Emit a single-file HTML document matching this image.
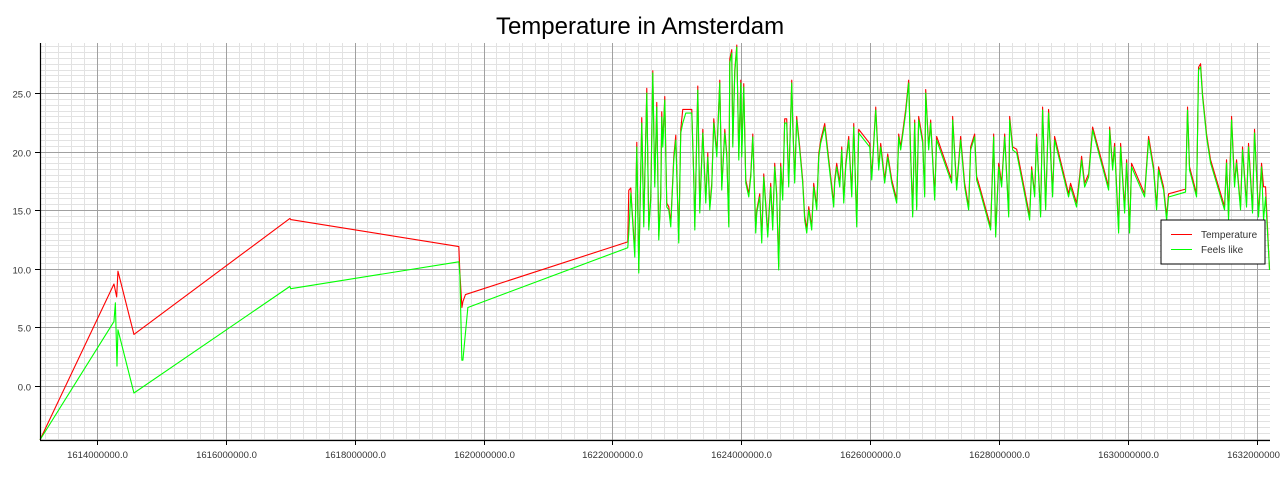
<!DOCTYPE html>
<html>
<head>
<meta charset="utf-8">
<style>
  html, body { margin: 0; padding: 0; background: #fff; }
  svg { display: block; font-family: "Liberation Sans", sans-serif; }
</style>
</head>
<body>
<svg id="chart" width="1280" height="480" viewBox="0 0 1280 480">
  <text x="640" y="34" text-anchor="middle" font-size="24" fill="#000">Temperature in Amsterdam</text>
  <g id="grid"></g>
  <g id="series"></g>
  <g id="axes"></g>
  <g>
    <rect x="1161" y="220" width="104" height="44" fill="#fff" stroke="#000" stroke-width="1"/>
    <line x1="1171" y1="234.5" x2="1192" y2="234.5" stroke="#ff0000" stroke-width="1"/>
    <text x="1201" y="238" font-size="10" fill="#333">Temperature</text>
    <line x1="1171" y1="249.5" x2="1192" y2="249.5" stroke="#00ff00" stroke-width="1"/>
    <text x="1201" y="253" font-size="10" fill="#333">Feels like</text>
  </g>
</svg>
<script>
// Timestamps in millions of seconds (unix time / 1e6)
const timesEarlyT = [1613.121,1614.268,1614.31,1614.33,1614.578,1616.997,1617.01,1619.617,1619.633,1619.665,1619.68,1619.72,1622.237,1622.253];
const tempEarly   = [-4.6,8.7,7.6,9.8,4.4,14.3,14.2,11.9,9.7,6.7,7.2,7.8,12.3,16.7];
const timesEarlyF = [1613.121,1614.268,1614.29,1614.315,1614.33,1614.578,1616.997,1617.01,1619.617,1619.633,1619.664,1619.68,1619.757,1622.237];
const feelsEarly  = [-4.6,5.5,7.1,1.7,4.8,-0.6,8.5,8.3,10.6,9.5,2.2,2.2,6.7,11.8];

const timesDense = [1622.253,1622.284,1622.299,1622.346,1622.377,1622.408,1622.454,1622.485,1622.532,1622.563,1622.594,1622.625,1622.656,1622.687,1622.718,1622.749,1622.764,1622.780,1622.811,1622.842,1622.873,1622.904,1622.951,1622.982,1623.028,1623.059,1623.090,1623.137,1623.230,1623.261,1623.277,1623.323,1623.354,1623.401,1623.447,1623.478,1623.509,1623.540,1623.571,1623.618,1623.664,1623.695,1623.742,1623.773,1623.804,1623.819,1623.850,1623.866,1623.897,1623.928,1623.959,1623.990,1624.005,1624.036,1624.067,1624.114,1624.145,1624.176,1624.222,1624.238,1624.284,1624.315,1624.346,1624.377,1624.408,1624.454,1624.485,1624.516,1624.547,1624.578,1624.609,1624.640,1624.671,1624.702,1624.733,1624.780,1624.795,1624.826,1624.857,1624.904,1624.950,1624.981,1625.013,1625.044,1625.090,1625.121,1625.168,1625.199,1625.230,1625.292,1625.431,1625.447,1625.478,1625.525,1625.556,1625.587,1625.618,1625.664,1625.711,1625.742,1625.788,1625.819,1625.990,1626.021,1626.083,1626.129,1626.160,1626.222,1626.269,1626.331,1626.408,1626.439,1626.470,1626.548,1626.594,1626.625,1626.656,1626.687,1626.718,1626.749,1626.811,1626.842,1626.858,1626.904,1626.935,1626.997,1627.028,1627.261,1627.276,1627.338,1627.400,1627.462,1627.524,1627.555,1627.617,1627.648,1627.695,1627.865,1627.912,1627.943,1627.990,1628.036,1628.083,1628.145,1628.160,1628.207,1628.269,1628.470,1628.501,1628.548,1628.578,1628.640,1628.671,1628.718,1628.764,1628.826,1628.857,1629.074,1629.105,1629.198,1629.245,1629.276,1629.323,1629.385,1629.447,1629.695,1629.711,1629.757,1629.788,1629.850,1629.881,1629.943,1629.974,1630.020,1630.051,1630.253,1630.315,1630.392,1630.439,1630.470,1630.547,1630.594,1630.625,1630.888,1630.919,1630.950,1631.059,1631.090,1631.121,1631.152,1631.214,1631.276,1631.493,1631.524,1631.555,1631.602,1631.648,1631.679,1631.741,1631.772,1631.834,1631.865,1631.927,1631.958,1632.020,1632.067,1632.098,1632.129,1632.191];

const feelsDense = [13.05,16.47,15.27,11.0,20.39,9.64,22.44,13.57,25.0,13.31,15.87,26.71,16.98,23.8,12.46,16.13,22.95,20.39,24.4,15.27,15.02,13.57,19.28,20.99,12.2,21.59,22.44,23.29,23.29,17.58,13.31,25.26,14.76,21.59,15.61,19.54,15.02,16.98,22.44,19.54,25.85,16.72,21.59,19.54,13.57,27.56,28.41,20.39,26.71,28.92,19.28,25.85,19.54,25.51,17.32,16.13,17.83,21.25,13.05,14.76,16.13,12.2,17.83,15.27,12.71,16.98,13.31,18.69,16.13,9.9,18.69,15.87,22.44,22.44,16.98,25.85,22.44,17.32,22.7,20.14,17.32,14.16,13.05,15.02,13.31,16.98,15.02,19.54,20.73,22.1,15.27,17.32,18.69,16.98,20.14,15.61,18.69,20.99,16.13,22.1,13.57,21.59,20.39,17.58,23.55,18.43,20.39,17.32,19.54,17.32,15.61,21.25,20.14,23.29,25.85,19.54,14.42,22.44,15.02,22.7,20.73,16.13,25.0,20.14,22.44,15.87,20.99,17.32,22.7,16.72,20.99,16.98,15.02,20.14,21.25,17.58,16.72,13.31,21.25,12.71,18.69,16.98,21.25,14.42,22.7,20.14,19.88,14.16,18.43,16.13,21.25,14.42,23.55,15.02,23.29,16.13,20.99,16.13,16.98,15.27,17.58,19.28,16.98,17.83,21.84,16.72,21.84,18.43,20.39,13.05,20.39,14.76,19.03,13.05,18.69,16.13,20.99,18.43,15.02,18.43,16.72,14.16,16.13,16.55,23.55,18.43,16.13,26.96,27.22,24.66,21.25,19.03,15.02,19.03,14.16,22.7,16.98,19.03,15.02,20.14,15.27,20.39,14.76,21.59,14.42,18.69,14.16,16.13,9.9];

const tempDense = [13.4,16.9,15.5,11.4,20.8,9.9,22.9,13.9,25.4,13.6,16.2,26.9,17.3,24.2,12.8,16.4,23.4,20.7,24.7,15.6,15.3,13.9,19.6,21.4,12.5,21.9,23.6,23.6,23.6,17.9,13.6,25.6,15.1,21.9,15.9,19.9,15.3,17.3,22.8,19.8,26.1,17.0,21.9,19.8,13.9,27.9,28.7,20.7,27.0,29.1,19.6,26.1,19.8,25.8,17.6,16.4,18.1,21.5,13.4,15.0,16.4,12.6,18.1,15.6,13.0,17.3,13.6,19.0,16.4,10.2,19.0,16.2,22.8,22.8,17.3,26.1,22.7,17.6,23.0,20.4,17.6,14.5,13.4,15.3,13.6,17.3,15.3,19.8,21.0,22.4,15.6,17.6,19.0,17.3,20.4,15.9,19.0,21.3,16.4,22.4,13.9,21.9,20.7,17.9,23.8,18.7,20.7,17.6,19.8,17.6,15.9,21.5,20.4,23.6,26.1,19.8,14.7,22.7,15.3,23.0,21.0,16.4,25.3,20.4,22.7,16.2,21.3,17.6,23.0,17.0,21.3,17.3,15.3,20.4,21.5,17.9,17.0,13.6,21.5,13.0,19.0,17.3,21.5,14.7,23.0,20.4,20.2,14.5,18.7,16.4,21.5,14.7,23.8,15.3,23.6,16.4,21.3,16.4,17.3,15.6,17.9,19.6,17.3,18.1,22.1,17.0,22.1,18.7,20.7,13.4,20.7,15.1,19.3,13.4,19.0,16.4,21.3,18.7,15.3,18.7,17.0,14.5,16.4,16.8,23.8,18.7,16.4,27.2,27.5,24.9,21.5,19.3,15.3,19.3,14.5,23.0,17.3,19.3,15.3,20.4,15.6,20.7,15.1,21.9,14.7,19.0,17.0,17.0,9.9];

const xTicks = [1614,1616,1618,1620,1622,1624,1626,1628,1630,1632];
const xTickLabels = ["1614000000.0","1616000000.0","1618000000.0","1620000000.0","1622000000.0","1624000000.0","1626000000.0","1628000000.0","1630000000.0","1632000000.0"];
const yTicks = [0,5,10,15,20,25];
const yTickLabels = ["0.0","5.0","10.0","15.0","20.0","25.0"];

const X0 = 40, X1 = 1270, Y0 = 440, Y1 = 43;
const xMin = 1613.121, xMax = 1632.198;
const yMin = -4.61, yMax = 29.27;
function xs(t){ return X0 + (t - xMin) / (xMax - xMin) * (X1 - X0); }
function ys(v){ return Y0 - (v - yMin) / (yMax - yMin) * (Y0 - Y1); }

const NS = "http://www.w3.org/2000/svg";
const grid = document.getElementById('grid');
const axes = document.getElementById('axes');
const series = document.getElementById('series');

function line(parent, x1, y1, x2, y2, color, w){
  const l = document.createElementNS(NS, 'line');
  l.setAttribute('x1', x1); l.setAttribute('y1', y1);
  l.setAttribute('x2', x2); l.setAttribute('y2', y2);
  l.setAttribute('stroke', color); l.setAttribute('stroke-width', w);
  parent.appendChild(l);
  return l;
}

for (let k = Math.ceil(xMin / 0.2); k * 0.2 <= xMax; k++) {
  const gx = Math.round(xs(k * 0.2)) + 0.5;
  const el = line(grid, gx, Y1, gx, Y0, '#e2e2e2', 1);
  
  
}
for (let k = Math.ceil(yMin / 0.5); k * 0.5 <= yMax; k++) {
  const gy = Math.round(ys(k * 0.5)) + 0.5;
  const el = line(grid, X0, gy, X1, gy, '#e2e2e2', 1);
  
  
}
xTicks.forEach((t, i) => {
  const gx = Math.round(xs(t)) + 0.5;
  const g = line(grid, gx, Y1, gx, Y0, '#a0a0a0', 1);
  
  
  const tk = line(axes, gx, Y0, gx, Y0 + 5, '#000', 1);
  
  
  const tx = document.createElementNS(NS, 'text');
  tx.setAttribute('x', gx); tx.setAttribute('y', Y0 + 18);
  tx.setAttribute('text-anchor', 'middle'); tx.setAttribute('font-size', '9.5'); tx.setAttribute('fill', '#333');
  tx.textContent = xTickLabels[i];
  
  
  axes.appendChild(tx);
});
yTicks.forEach((v, i) => {
  const gy = Math.round(ys(v)) + 0.5;
  const g = line(grid, X0, gy, X1, gy, '#a0a0a0', 1);
  
  
  const tk = line(axes, X0 - 5, gy, X0, gy, '#000', 1);
  
  
  const tx = document.createElementNS(NS, 'text');
  tx.setAttribute('x', X0 - 9); tx.setAttribute('y', gy + 4);
  tx.setAttribute('text-anchor', 'end'); tx.setAttribute('font-size', '9.5'); tx.setAttribute('fill', '#333');
  tx.textContent = yTickLabels[i];
  
  
  axes.appendChild(tx);
});
const xa = line(axes, X0, Y0 + 0.5, X1, Y0 + 0.5, '#000', 1.2);


const ya = line(axes, X0 + 0.5, Y1, X0 + 0.5, Y0, '#000', 1.2);



function poly(times, vals, color, name){
  const p = document.createElementNS(NS, 'polyline');
  p.setAttribute('points', times.map((t, i) => xs(t).toFixed(2) + ',' + ys(vals[i]).toFixed(2)).join(' '));
  p.setAttribute('fill', 'none'); p.setAttribute('stroke', color); p.setAttribute('stroke-width', '1.1');
  p.setAttribute('stroke-linejoin', 'round');
  
  
  series.appendChild(p);
}
poly(timesEarlyT.concat(timesDense.slice(1)), tempEarly.concat(tempDense.slice(1)), '#ff0000', 'temperature-line');
poly(timesEarlyF.concat(timesDense), feelsEarly.concat(feelsDense), '#00ff00', 'feels-like-line');
</script>
</body>
</html>
